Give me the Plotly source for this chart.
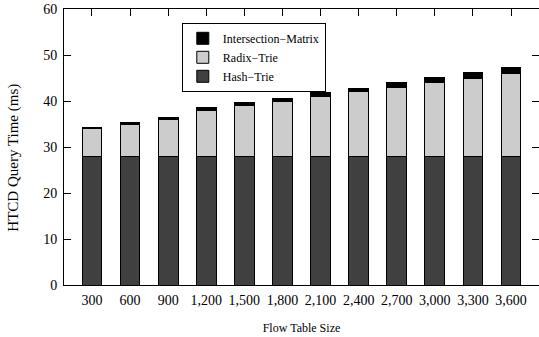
import plotly.graph_objects as go

categories = ["300", "600", "900", "1,200", "1,500", "1,800", "2,100", "2,400", "2,700", "3,000", "3,300", "3,600"]
hash_trie = [28, 28, 28, 28, 28, 28, 28, 28, 28, 28, 28, 28]
radix_trie = [6, 7, 8, 10, 11, 12, 13, 14, 15, 16, 17, 18]
intersection_matrix = [0.25, 0.3, 0.4, 0.5, 0.6, 0.6, 0.8, 0.8, 1.0, 1.1, 1.2, 1.3]

FONT = "Liberation Serif"
line = dict(color="black", width=1)

fig = go.Figure()
fig.add_trace(go.Bar(name="Hash\u2212Trie", x=categories, y=hash_trie,
                     marker=dict(color="#404040", line=line)))
fig.add_trace(go.Bar(name="Radix\u2212Trie", x=categories, y=radix_trie,
                     marker=dict(color="#cccccc", line=line)))
fig.add_trace(go.Bar(name="Intersection\u2212Matrix", x=categories, y=intersection_matrix,
                     marker=dict(color="black", line=line)))

fig.update_layout(
    width=539, height=337,
    margin=dict(l=64, r=0, t=9, b=52),
    barmode="stack",
    bargap=0.48,
    plot_bgcolor="white",
    paper_bgcolor="white",
    font=dict(family=FONT, size=14, color="black"),
    showlegend=True,
    legend=dict(
        x=0.248, y=0.95, xanchor="left", yanchor="top",
        traceorder="reversed",
        bgcolor="white", bordercolor="black", borderwidth=1,
        font=dict(family=FONT, size=12, color="black"),
        tracegroupgap=0,
        itemwidth=30,
    ),
    xaxis=dict(
        type="category",
        range=[-0.733, 11.733],
        showline=True, linecolor="black", linewidth=1,
        mirror="ticks", ticks="inside", ticklen=7, tickcolor="black",
        showgrid=False, layer="below traces",
        ticklabelstandoff=2,
        title=dict(text="Flow Table Size", font=dict(size=12), standoff=16),
    ),
    yaxis=dict(
        range=[0, 60], dtick=10,
        showline=True, linecolor="black", linewidth=1,
        mirror="ticks", ticks="inside", ticklen=7, tickcolor="black",
        showgrid=False, zeroline=False,
        ticklabelstandoff=3,
    ),
    annotations=[dict(
        text="HTCD Query Time (ms)", textangle=-90,
        xref="paper", yref="paper", x=-0.107, y=0.462,
        xanchor="center", yanchor="middle", showarrow=False,
        font=dict(family=FONT, size=15, color="black"),
    )],
)

fig.write_html("out.html", config={"displayModeBar": False},
               post_script="document.body.style.margin='0';document.body.style.overflow='hidden';")
